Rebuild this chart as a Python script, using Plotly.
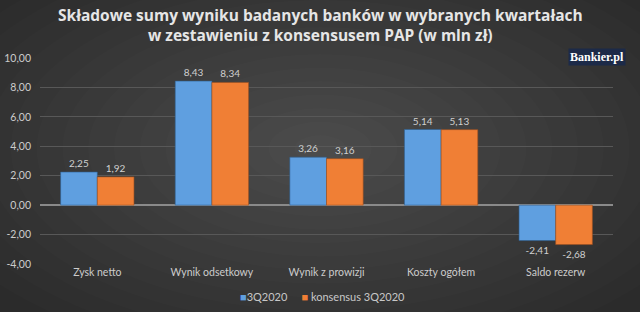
import plotly.graph_objects as go

categories = ["Zysk netto", "Wynik odsetkowy", "Wynik z prowizji", "Koszty ogółem", "Saldo rezerw"]
series_names = ["3Q2020", "konsensus 3Q2020"]
actual = [2.25, 8.43, 3.26, 5.14, -2.41]
consensus = [1.92, 8.34, 3.16, 5.13, -2.68]
tick_vals = [-4, -2, 0, 2, 4, 6, 8, 10]
tick_text = ["-4,00", "-2,00", "0,00", "2,00", "4,00", "6,00", "8,00", "10,00"]

BLUE = "#5f9fe0"
ORANGE = "#f07f35"

def fmt(v):
    return f"{v:.2f}".replace(".", ",")

fig = go.Figure()
fig.add_trace(go.Bar(
    x=categories, y=actual, name=series_names[0], showlegend=False,
    marker=dict(color=BLUE, line=dict(color="#2f5f90", width=0.6)),
    text=[fmt(v) for v in actual], textposition="outside",
    textfont=dict(color="#d0d0d0", size=10, family="Lato"), cliponaxis=False,
))
fig.add_trace(go.Bar(
    x=categories, y=consensus, name=series_names[1], showlegend=False,
    marker=dict(color=ORANGE, line=dict(color="#a05020", width=0.6)),
    text=[fmt(v) for v in consensus], textposition="outside",
    textfont=dict(color="#d0d0d0", size=10, family="Lato"), cliponaxis=False,
))

# radial-like background glow
shapes = []
n = 16
cx, cy = 0.489, 0.56
rx, ry = 0.72, 1.05
for k in range(n, 0, -1):
    f = k / n
    shapes.append(dict(
        type="circle", xref="paper", yref="paper", layer="below",
        x0=cx - rx * f, x1=cx + rx * f, y0=cy - ry * f, y1=cy + ry * f,
        fillcolor="rgba(255,255,255,0.0105)", line=dict(width=0),
    ))

fig.update_layout(
    width=640, height=312,
    margin=dict(l=40, r=27, t=58, b=48, autoexpand=False),
    paper_bgcolor="#2b2b2b", plot_bgcolor="rgba(0,0,0,0)",
    barmode="group", bargap=0.36, bargroupgap=0,
    font=dict(family="Lato", color="#c8c8c8", size=10),
    showlegend=False,
    shapes=shapes,
    xaxis=dict(showgrid=False, showline=False, ticks="", tickfont=dict(size=10.5, color="#cccccc")),
    yaxis=dict(range=[-4, 10], tickvals=tick_vals, ticktext=tick_text,
               gridcolor="#585858", gridwidth=1, zeroline=True, zerolinecolor="#8a8a8a",
               zerolinewidth=2, showline=False, ticks="", ticklabelstandoff=8,
               tickfont=dict(size=10.5, color="#cccccc")),
    annotations=[
        dict(
            text="<b>Składowe sumy wyniku badanych banków w wybranych kwartałach<br>w zestawieniu z konsensusem PAP (w mln zł)</b>",
            xref="paper", yref="paper", x=(320 - 40) / 573, y=(264 - 25) / 206,
            xanchor="center", yanchor="middle", showarrow=False,
            font=dict(family="Open Sans", size=15.5, color="#e6e6e6"),
        ),
        dict(
            text="<b>Bankier.pl</b>", xref="paper", yref="paper", x=(626 - 40) / 573, y=(264 - 57) / 206,
            xanchor="right", yanchor="middle", showarrow=False,
            font=dict(family="Liberation Serif", size=12, color="#ffffff"),
            bgcolor="#1c2a48", borderpad=1,
        ),
        dict(
            text=f"<span style='color:{BLUE}'>■</span>{series_names[0]}     <span style='color:{ORANGE}'>■</span> {series_names[1]}",
            xref="paper", yref="paper", x=(322 - 40) / 573, y=(264 - 296) / 206,
            xanchor="center", yanchor="middle", showarrow=False,
            font=dict(family="Lato", size=11, color="#c8c8c8"),
        ),
    ],
)

fig.write_html("out.html")
